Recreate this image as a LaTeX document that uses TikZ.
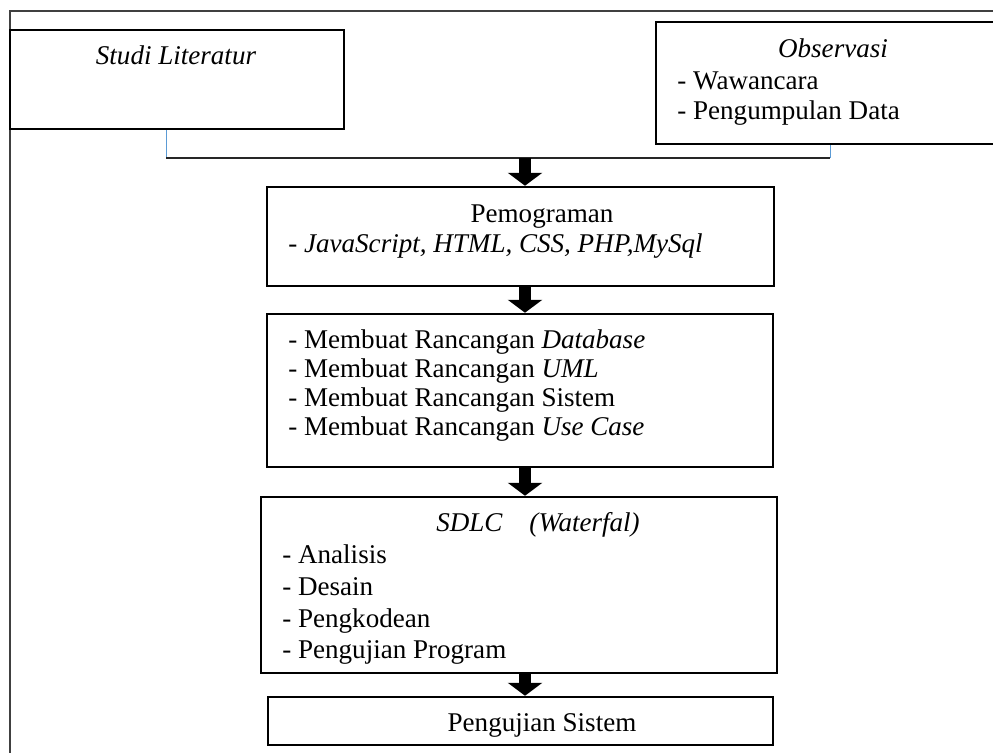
\documentclass[tikz,border=0pt]{standalone}
\usepackage{fontspec}
\setmainfont{Liberation Serif}
\usetikzlibrary{arrows.meta,fit}
\definecolor{linkblue}{RGB}{91,155,213}
\tikzset{
    box/.style={draw, line width=0.05cm, inner sep=0pt},
    txt/.style={inner sep=0pt, anchor=base west, font=\fontsize{15.4pt}{17.6pt}\selectfont},
    ctxt/.style={txt, anchor=base},
    flow/.style={line width=0.24cm, -{Triangle[width=0.68cm,length=0.26cm]}},
    conn/.style={line width=0.03cm, black!85},
    bluelink/.style={line width=0.02cm, linkblue},
}

\begin{document}
\begin{tikzpicture}[x=0.02cm, y=-0.02cm]
    \useasboundingbox (0,0) rectangle (993,753);
    \clip (0,0) rectangle (993,753);
    % Frame
    \draw[line width=0.05cm, black!75] (10,753) -- (10,11) -- (993,11);

    % Top boxes
    \node[box, fit={(10,30) (344,129)}] (studi) {};
    \node[ctxt] (studiT) at (176,65) {\itshape Studi Literatur};
    \node[box, fit={(656,22) (1011,144)}] (obs) {};
    \node[ctxt] (obsT) at (833,58) {\itshape Observasi};
    \node[txt] (obs1) at (677,90) {- Wawancara};
    \node[txt] (obs2) at (677,120) {- Pengumpulan Data};

    % Join line
    \coordinate (cl) at (166,158);
    \coordinate (cr) at (830,158);
    \coordinate (join) at (525,158);
    \draw[bluelink] (studi.south -| cl) -- (cl);
    \draw[conn] (cl) -- (cr);
    \draw[bluelink] (cr) -- (obs.south -| cr);

    % Pemograman
    \node[box, fit={(267,187) (774,286)}] (prog) {};
    \node[ctxt] (progT) at (542,222) {Pemograman};
    \node[txt] (prog1) at (288,252) {\itshape - JavaScript, HTML, CSS, PHP,MySql};

    % Rancangan
    \node[box, fit={(267,314) (773,467)}] (rancang) {};
    \foreach \i/\y/\t in {1/348/{\textit{Database}}, 2/377/{\textit{UML}}, 3/406/{Sistem}, 4/435/{\textit{Use Case}}}
        \node[txt] (ran\i) at (288,\y) {- Membuat Rancangan \t};

    % SDLC
    \node[box, fit={(261,497) (777,673)}] (sdlc) {};
    \node[ctxt] (sdlcT) at (538,531) {\itshape SDLC\quad(Waterfal)};
    \foreach \i/\y/\t in {1/563/Analisis, 2/595/Desain, 3/627/Pengkodean, 4/658/Pengujian Program}
        \node[txt] (sd\i) at (282,\y) {- \t};

    % Pengujian Sistem
    \node[box, fit={(268,697) (773,745)}] (uji) {};
    \node[ctxt] (ujiT) at (542,731) {Pengujian Sistem};

    % Arrows
    \draw[flow] (join) -- (prog.north -| join);
    \draw[flow] (prog.south -| join) -- (rancang.north -| join);
    \draw[flow] (rancang.south -| join) -- (sdlc.north -| join);
    \draw[flow] (sdlc.south -| join) -- (uji.north -| join);
\end{tikzpicture}
\end{document}
